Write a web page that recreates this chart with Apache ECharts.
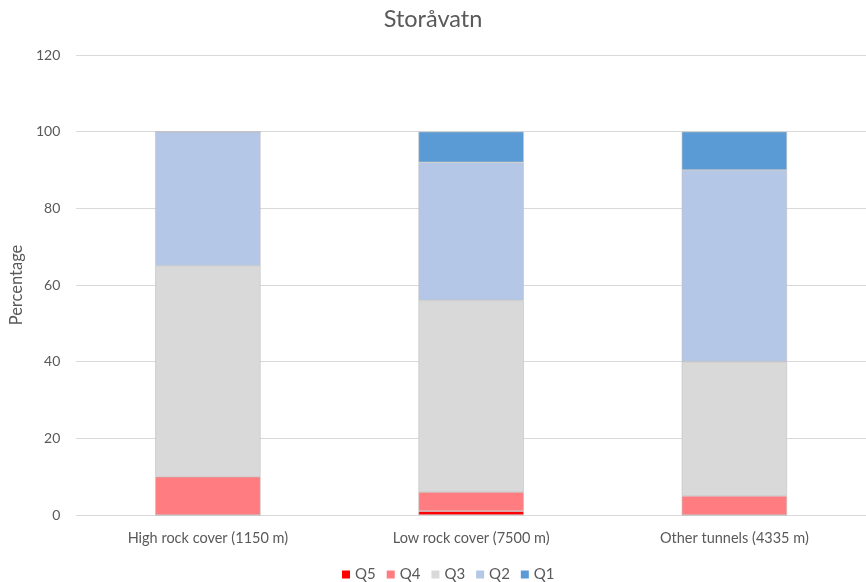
<!DOCTYPE html>
<html>
<head>
<meta charset="utf-8">
<script src="https://cdn.jsdelivr.net/npm/echarts@6/dist/echarts.min.js"></script>
<style>
html,body{margin:0;padding:0;background:#fff;}
#chart{width:866px;height:582px;}
</style>
</head>
<body>
<div id="chart"></div>
<script>
// Stacked percentage shares per tunnel group
const categories = ['High rock cover (1150 m)', 'Low rock cover (7500 m)', 'Other tunnels (4335 m)'];
const q5 = [0, 1, 0];
const q4 = [10, 5, 5];
const q3 = [55, 50, 35];
const q2 = [35, 36, 50];
const q1 = [0, 8, 10];
const yTicks = [0, 20, 40, 60, 80, 100, 120];

const seriesDefs = [
  { name: 'Q5', data: q5, color: '#ff0000' },
  { name: 'Q4', data: q4, color: '#ff7c80' },
  { name: 'Q3', data: q3, color: '#d9d9d9' },
  { name: 'Q2', data: q2, color: '#b4c7e7' },
  { name: 'Q1', data: q1, color: '#5b9bd5' }
];

const font = 'Lato, "Open Sans", sans-serif';
const chart = echarts.init(document.getElementById('chart'));
chart.setOption({
  animation: false,
  textStyle: { fontFamily: font },
  title: {
    text: 'Storåvatn',
    left: 'center',
    top: 2,
    textStyle: { fontFamily: font, fontSize: 23.5, fontWeight: 'normal', color: '#595959' }
  },
  legend: {
    top: 562,
    left: 337,
    itemWidth: 8,
    itemHeight: 8,
    itemGap: 11,
    icon: 'rect',
    itemStyle: { borderWidth: 0 },
    textStyle: { fontFamily: font, fontSize: 15, color: '#595959' },
    data: seriesDefs.map(s => s.name)
  },
  grid: { left: 71, width: 803, top: 55, bottom: 67, containLabel: false },
  xAxis: {
    type: 'category',
    data: categories,
    axisLine: { lineStyle: { color: '#d9d9d9', width: 1 } },
    axisTick: { show: false },
    axisLabel: { color: '#595959', fontSize: 14.5, fontFamily: font, margin: 16 }
  },
  yAxis: {
    type: 'value',
    min: yTicks[0],
    max: yTicks[yTicks.length - 1],
    interval: 20,
    name: 'Percentage',
    nameLocation: 'middle',
    nameGap: 47,
    nameTextStyle: { color: '#595959', fontSize: 16.5, fontFamily: font },
    axisLine: { show: false },
    axisTick: { show: false },
    axisLabel: { color: '#595959', fontSize: 14, fontFamily: font, margin: 16 },
    splitLine: { lineStyle: { color: '#d9d9d9', width: 1 } }
  },
  series: seriesDefs.map(s => ({
    name: s.name,
    type: 'bar',
    stack: 'total',
    barWidth: '40%',
    data: s.data,
    itemStyle: { color: s.color, borderColor: '#bfbfbf', borderWidth: 0.6 }
  }))
});
</script>
</body>
</html>
